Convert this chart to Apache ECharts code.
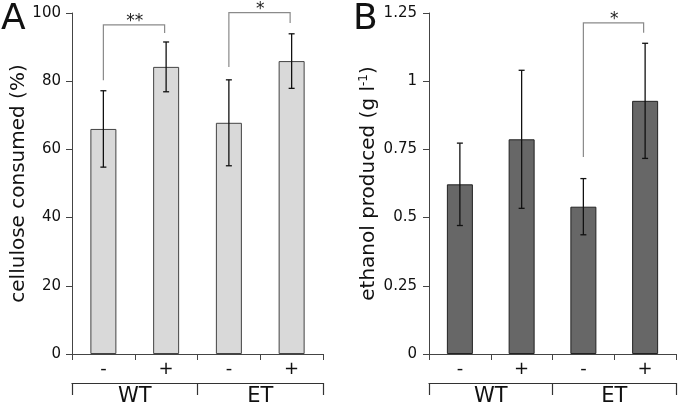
<!DOCTYPE html>
<html>
<head>
<meta charset="utf-8">
<script src="https://cdn.jsdelivr.net/npm/echarts@6/dist/echarts.min.js"></script>
<style>
html,body{margin:0;padding:0;background:#fff;}
#chart{width:680px;height:407px;}
</style>
</head>
<body>
<div id="chart"></div>
<script>
// ---- data ----
const treatments = ['-', '+', '-', '+'];
const groups = ['WT', 'ET'];
const celluloseMean = [66.0, 84.2, 67.8, 85.9];
const celluloseErr = [11.2, 7.3, 12.6, 8.0];
const ethanolMean = [0.622, 0.787, 0.540, 0.928];
const ethanolErr = [0.151, 0.253, 0.103, 0.211];
const celluloseTicks = { min: 0, max: 100, interval: 20 };
const ethanolTicks = { min: 0, max: 1.25, interval: 0.25 };
// brackets: [from index, to index, left foot, top, right foot]
const celluloseBrackets = [[0, 1, 80.3, 96.5, 94.1], [2, 3, 84.2, 100.1, 97.1]];
const celluloseBracketLabels = ['**', '*'];
const ethanolBrackets = [[2, 3, 0.722, 1.214, 1.178]];
const ethanolBracketLabels = ['*'];

const FONT = 'DejaVu Sans';
const chart = echarts.init(document.getElementById('chart'), null, { renderer: 'canvas' });

function errData(mean, err) {
  return mean.map((m, i) => [i, m - err[i], m + err[i]]);
}
function errRender(params, api) {
  const x = api.value(0), lo = api.value(1), hi = api.value(2);
  const pt = api.coord([x, hi]);
  const pb = api.coord([x, lo]);
  const w = 3;
  const st = { stroke: '#111', lineWidth: 1.3 };
  return {
    type: 'group', children: [
      { type: 'line', shape: { x1: pt[0], y1: pt[1], x2: pb[0], y2: pb[1] }, style: st },
      { type: 'line', shape: { x1: pt[0] - w, y1: pt[1], x2: pt[0] + w, y2: pt[1] }, style: st },
      { type: 'line', shape: { x1: pb[0] - w, y1: pb[1], x2: pb[0] + w, y2: pb[1] }, style: st }
    ]
  };
}
function bracketRender(labels) {
  return function (params, api) {
    const i1 = api.value(0), i2 = api.value(1);
    const yl = api.value(2), yt = api.value(3), yr = api.value(4);
    const a = api.coord([i1, yl]);
    const b = api.coord([i1, yt]);
    const c = api.coord([i2, yt]);
    const d = api.coord([i2, yr]);
    const off = 1.5;
    return {
      type: 'group', children: [
        { type: 'polyline', shape: { points: [[a[0], a[1]], [b[0], b[1]], [c[0] - off, c[1]], [d[0] - off, d[1]]] },
          style: { stroke: '#8a8a8a', lineWidth: 1.2, fill: null } },
        { type: 'text', x: (b[0] + c[0]) / 2, y: b[1] - 3,
          style: { text: labels[params.dataIndex], font: '17px "' + FONT + '"', fill: '#222', align: 'center', verticalAlign: 'middle' } }
      ]
    };
  };
}

function yAxisCfg(grid, ticks, name, nameGap, margin) {
  return {
    type: 'value', gridIndex: grid, min: ticks.min, max: ticks.max, interval: ticks.interval,
    name: name, nameLocation: 'middle', nameGap: nameGap,
    nameTextStyle: { fontFamily: FONT, fontSize: 20, color: '#111', rich: { sup: { fontFamily: FONT, fontSize: 12, color: '#111', verticalAlign: 'top', padding: [0, 0, 9, 0] } } },
    axisLine: { show: true, lineStyle: { color: '#444', width: 1 } },
    axisTick: { show: true, length: 6, lineStyle: { color: '#444' } },
    axisLabel: { fontFamily: FONT, fontSize: 15, color: '#111', margin: margin },
    splitLine: { show: false }
  };
}
function xAxisCfg(grid) {
  return {
    type: 'category', gridIndex: grid, data: treatments,
    axisLine: { show: true, lineStyle: { color: '#444', width: 1 } },
    axisTick: { show: true, length: 6, lineStyle: { color: '#444' } },
    axisLabel: { fontFamily: FONT, fontSize: 18, color: '#111', margin: 6 }
  };
}
function groupAxisCfg(grid) {
  return {
    type: 'category', gridIndex: grid, data: groups, position: 'bottom', offset: 29,
    axisLine: { show: true, lineStyle: { color: '#333', width: 1.2 } },
    axisTick: { show: true, length: 12, lineStyle: { color: '#333', width: 1.2 } },
    axisLabel: { fontFamily: FONT, fontSize: 21, color: '#111', margin: 3 }
  };
}

const option = {
  animation: false,
  grid: [
    { left: 72, top: 13, width: 251, height: 341 },
    { left: 429, top: 13, width: 247, height: 343 }
  ],
  xAxis: [xAxisCfg(0), groupAxisCfg(0), xAxisCfg(1), groupAxisCfg(1)],
  yAxis: [
    yAxisCfg(0, celluloseTicks, 'cellulose consumed (%)', 29, 11),
    yAxisCfg(1, ethanolTicks, 'ethanol produced (g l{sup|-1})', 50, 12)
  ],
  graphic: [
    { type: 'text', left: 1, top: 2, style: { text: 'A', font: '36px "' + FONT + '"', fill: '#111' } },
    { type: 'text', left: 353, top: 2, style: { text: 'B', font: '36px "' + FONT + '"', fill: '#111' } }
  ],
  series: [
    { type: 'bar', xAxisIndex: 0, yAxisIndex: 0, data: celluloseMean, barWidth: 26,
      itemStyle: { color: '#d9d9d9', borderColor: '#444', borderWidth: 1 } },
    { type: 'custom', xAxisIndex: 0, yAxisIndex: 0, data: errData(celluloseMean, celluloseErr),
      encode: { x: 0, y: [1, 2] }, renderItem: errRender, z: 5 },
    { type: 'custom', xAxisIndex: 0, yAxisIndex: 0, data: celluloseBrackets,
      encode: { x: [0, 1], y: [2, 3, 4] }, renderItem: bracketRender(celluloseBracketLabels), z: 5 },
    { type: 'bar', xAxisIndex: 2, yAxisIndex: 1, data: ethanolMean, barWidth: 26,
      itemStyle: { color: '#676767', borderColor: '#222', borderWidth: 1 } },
    { type: 'custom', xAxisIndex: 2, yAxisIndex: 1, data: errData(ethanolMean, ethanolErr),
      encode: { x: 0, y: [1, 2] }, renderItem: errRender, z: 5 },
    { type: 'custom', xAxisIndex: 2, yAxisIndex: 1, data: ethanolBrackets,
      encode: { x: [0, 1], y: [2, 3, 4] }, renderItem: bracketRender(ethanolBracketLabels), z: 5 }
  ]
};
chart.setOption(option);
</script>
</body>
</html>
